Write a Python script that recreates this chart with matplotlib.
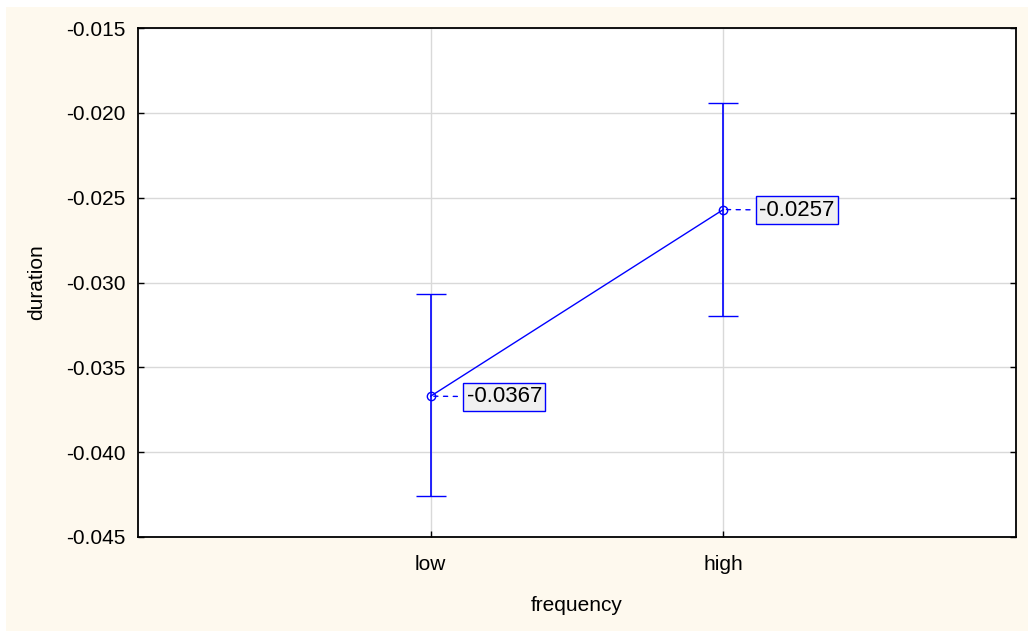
import matplotlib

matplotlib.use("Agg", force=True)
import matplotlib.pyplot as plt
from matplotlib.patches import Rectangle

# group means with their confidence bounds
categories = ["low", "high"]
means = [-0.0367, -0.0257]
upper = [-0.0307, -0.0194]
lower = [-0.0426, -0.0320]
yticks = [-0.045, -0.040, -0.035, -0.030, -0.025, -0.020, -0.015]

BLUE = "#0000ff"
CREAM = "#fef9ee"

plt.rcParams["font.family"] = ["Liberation Sans", "DejaVu Sans"]

fig = plt.figure(figsize=(10.28, 6.31), dpi=100, facecolor="white")
# cream panel behind everything, leaving a thin white strip top and left
fig.patches.append(Rectangle((6 / 1028, 0), 1, 1 - 7 / 631, transform=fig.transFigure,
                             facecolor=CREAM, edgecolor="none", zorder=-10))
ax = fig.add_axes([138 / 1028, 1 - 537 / 631, 878 / 1028, 509 / 631])
ax.set_facecolor("white")

xs = [1, 2]
yerr = [[m - lo for m, lo in zip(means, lower)], [up - m for m, up in zip(means, upper)]]
ax.errorbar(xs, means, yerr=yerr, color=BLUE, lw=1, elinewidth=1.2, capsize=11,
            capthick=1.2, marker="o", ms=6, mfc="none", mec=BLUE, mew=1, zorder=3)

for x, m in zip(xs, means):
    ax.annotate(f"{m:.4f}", xy=(x, m), xytext=(26, -0.5), textcoords="offset points",
                ha="left", va="center", fontsize=16,
                bbox=dict(boxstyle="square,pad=0.15", fc="#f0f0f0", ec=BLUE, lw=1),
                arrowprops=dict(arrowstyle="-", color=BLUE, lw=1, ls=(0, (3, 4)),
                                shrinkA=4, shrinkB=0))

ax.set_xlim(0, 3)
ax.set_ylim(-0.045, -0.015)
ax.set_xticks(xs)
ax.set_xticklabels(categories)
ax.set_yticks(yticks)
ax.set_yticklabels([f"{t:.3f}" for t in yticks])
ax.grid(True, color="#d9d9d9", lw=1)
ax.set_axisbelow(True)
ax.tick_params(direction="in", length=4, width=1, labelsize=15, pad=9,
               right=True, color="black")
ax.tick_params(axis="x", pad=13)
for s in ax.spines.values():
    s.set_linewidth(1.3)
    s.set_color("black")

ax.set_xlabel("frequency", fontsize=15, labelpad=16)
ax.set_ylabel("duration", fontsize=15, labelpad=14)

fig.savefig("out.png", dpi=100, facecolor=fig.get_facecolor())
